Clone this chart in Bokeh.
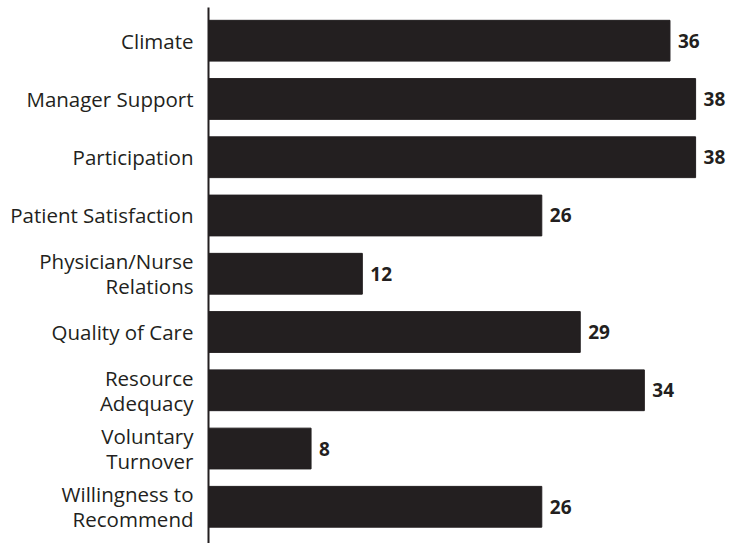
from bokeh.plotting import figure
from bokeh.models import Range1d, FixedTicker, ColumnDataSource
from bokeh.core.properties import value
from bokeh.embed import file_html
from bokeh.resources import INLINE

categories = ["Climate", "Manager Support", "Participation", "Patient Satisfaction",
              "Physician/Nurse\nRelations", "Quality of Care", "Resource\nAdequacy",
              "Voluntary\nTurnover", "Willingness to\nRecommend"]
values = [36, 38, 38, 26, 12, 29, 34, 8, 26]

idx = list(range(len(categories)))
src = ColumnDataSource(dict(y=idx, v=values, lbl=[str(v) for v in values]))

p = figure(frame_width=523, frame_height=536, output_backend="svg", toolbar_location=None,
           x_range=Range1d(0, 40.8), y_range=Range1d(8.63, -0.57),
           x_axis_location=None, min_border_left=208, min_border_right=0,
           min_border_top=7, min_border_bottom=0)
p.outline_line_color = None
p.grid.visible = False
p.background_fill_color = "white"

p.hbar(y="y", left=0, right="v", height=0.7, source=src,
       fill_color="#231f20", line_color="#231f20")
p.text(x="v", y="y", text="lbl", source=src, x_offset=8,
       text_font=value("Open Sans"), text_font_style="bold", text_font_size="19px",
       text_color="#231f20", text_baseline="middle", text_align="left")

ax = p.yaxis[0]
ax.ticker = FixedTicker(ticks=idx)
ax.major_label_overrides = {i: c for i, c in zip(idx, categories)}
ax.major_tick_line_color = None
ax.minor_tick_line_color = None
ax.major_label_standoff = 9
ax.major_label_text_font = "Open Sans"
ax.major_label_text_font_size = "20.5px"
ax.major_label_text_line_height = 0.88
ax.major_label_text_color = "#231f20"
ax.axis_line_color = "#231f20"
ax.axis_line_width = 2

open("out.html", "w").write(file_html(p, INLINE))
